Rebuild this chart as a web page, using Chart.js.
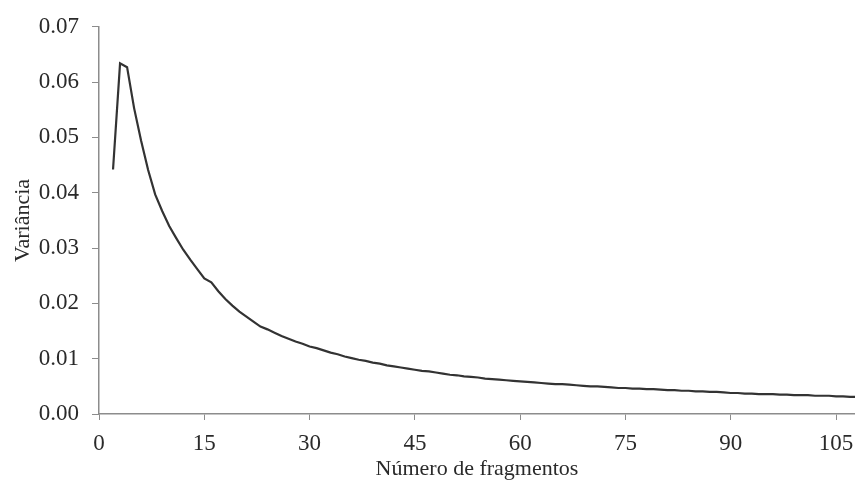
<!DOCTYPE html>
<html>
<head>
<meta charset="utf-8">
<script src="https://cdn.jsdelivr.net/npm/chart.js@4.4.1/dist/chart.umd.min.js"></script>
<style>
html,body{margin:0;padding:0;background:#fff;}
#wrap{width:855px;height:484px;position:relative;}
</style>
</head>
<body>
<div id="wrap"><canvas id="c" width="855" height="484"></canvas></div>
<script>
const fragments = [2,3,4,5,6,7,8,9,10,11,12,13,14,15,16,17,18,19,20,21,22,23,24,25,26,27,28,29,30,31,32,33,34,35,36,37,38,39,40,41,42,43,44,45,46,47,48,49,50,51,52,53,54,55,56,57,58,59,60,61,62,63,64,65,66,67,68,69,70,71,72,73,74,75,76,77,78,79,80,81,82,83,84,85,86,87,88,89,90,91,92,93,94,95,96,97,98,99,100,101,102,103,104,105,106,107,108];
const variance = [0.0442,0.0634,0.0627,0.0553,0.0494,0.0441,0.0397,0.0367,0.0340,0.0318,0.0297,0.0279,0.0262,0.0245,0.0238,0.0222,0.0208,0.0196,0.0185,0.0176,0.0167,0.0158,0.0153,0.0147,0.0141,0.0136,0.0131,0.0127,0.0122,0.0119,0.0115,0.0111,0.0108,0.0104,0.0101,0.0098,0.0096,0.0093,0.0091,0.0088,0.0086,0.0084,0.0082,0.0080,0.0078,0.0077,0.0075,0.0073,0.0071,0.0070,0.0068,0.0067,0.0066,0.0064,0.0063,0.0062,0.0061,0.0060,0.0059,0.0058,0.0057,0.0056,0.0055,0.0054,0.0054,0.0053,0.0052,0.0051,0.0050,0.0050,0.0049,0.0048,0.0047,0.0047,0.0046,0.0046,0.0045,0.0045,0.0044,0.0043,0.0043,0.0042,0.0042,0.0041,0.0041,0.0040,0.0040,0.0039,0.0038,0.0038,0.0037,0.0037,0.0036,0.0036,0.0036,0.0035,0.0035,0.0034,0.0034,0.0034,0.0033,0.0033,0.0033,0.0032,0.0032,0.0031,0.0031];
const xTicks = [0,15,30,45,60,75,90,105];
const yTicks = [0,0.01,0.02,0.03,0.04,0.05,0.06,0.07];
const xTitle = 'Número de fragmentos';
const yTitle = 'Variância';

const points = fragments.map((f,i)=>({x:f,y:variance[i]}));
const font = {family:'"Liberation Serif","Times New Roman",serif', size:22};
const tickFont = {family:'"Liberation Serif","Times New Roman",serif', size:23};
const axisColor = '#8c8c8c';
const textColor = '#2a2a2a';

new Chart(document.getElementById('c'), {
  type:'line',
  data:{datasets:[{data:points,borderColor:'#333333',borderWidth:2.2,pointRadius:0,tension:0,fill:false}]},
  options:{
    responsive:false,animation:false,
    layout:{padding:{top:26,right:0,bottom:0,left:0}},
    plugins:{legend:{display:false},tooltip:{enabled:false}},
    scales:{
      x:{type:'linear',min:0,max:107.7,
        afterBuildTicks:(s)=>{s.ticks = xTicks.map(v=>({value:v}));},
        afterFit:(s)=>{s.height=70;s.paddingRight=0;s.paddingLeft=0;},
        grid:{display:true,drawOnChartArea:false,drawTicks:true,tickLength:6,color:axisColor,lineWidth:1},
        border:{display:true,color:axisColor,width:1.5},
        ticks:{font:tickFont,color:textColor,padding:10,maxRotation:0,autoSkip:false,callback:(v)=>String(v)},
        title:{display:true,text:xTitle,font:font,color:textColor,padding:{top:0,bottom:2}}
      },
      y:{type:'linear',min:0,max:0.07,
        afterBuildTicks:(s)=>{s.ticks = yTicks.map(v=>({value:v}));},
        afterFit:(s)=>{s.width=99;},
        grid:{display:true,drawOnChartArea:false,drawTicks:true,tickLength:7,color:axisColor,lineWidth:1},
        border:{display:true,color:axisColor,width:1.5},
        ticks:{font:tickFont,color:textColor,padding:13,autoSkip:false,callback:(v)=>Number(v).toFixed(2)},
        title:{display:true,text:yTitle,font:font,color:textColor,padding:{top:10,bottom:0}}
      }
    }
  }
});
</script>
</body>
</html>
